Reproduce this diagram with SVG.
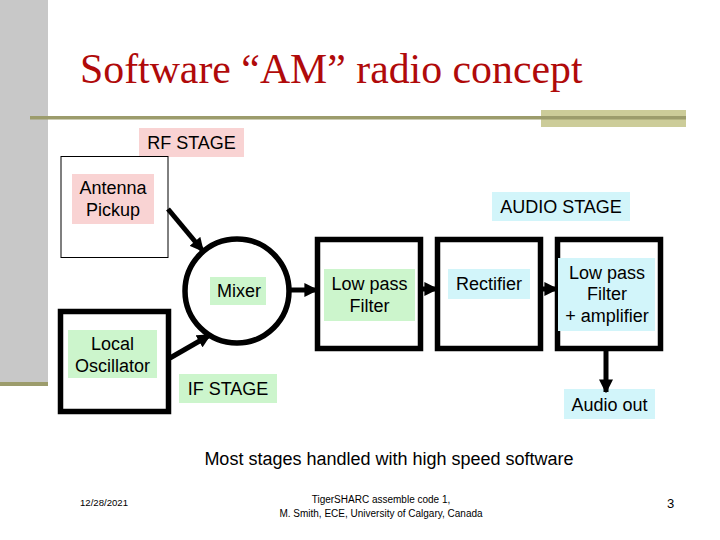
<svg xmlns="http://www.w3.org/2000/svg" width="720" height="540" viewBox="0 0 720 540">
<defs>
<style>
.t{font-family:"Liberation Sans",Arial,sans-serif;font-size:18px;fill:#000;text-anchor:middle}
.box{fill:none;stroke:#000;stroke-width:5.5}
.pink{fill:#F9D3D3}
.green{fill:#CCF5CC}
.cyan{fill:#D2F5FA}
.conn{stroke:#000;stroke-width:5;fill:none}
.ft{font-family:"Liberation Sans",Arial,sans-serif;fill:#000}
</style>
<marker id="ah" viewBox="0 0 10 10" refX="9" refY="5" markerWidth="2.8" markerHeight="2.8" orient="auto" markerUnits="strokeWidth">
<path d="M0,0 L10,5 L0,10 z" fill="#000"/>
</marker>
</defs>
<rect x="0" y="0" width="720" height="540" fill="#fff"/>
<g id="decor">
<rect x="0" y="0" width="48" height="383" fill="#C8C8C8"/>
<rect x="0" y="382" width="48" height="4" fill="#9C9C6C"/>
<rect x="541" y="110" width="145" height="17" fill="#CCCC99"/>
<rect x="30" y="116" width="656" height="3.5" fill="#9C9C6C"/>
</g>
<text id="title" x="80" y="83" font-family="Liberation Serif,'Times New Roman',serif" font-size="41.8" fill="#B00A0A">Software “AM” radio concept</text>
<g id="rf-stage"><rect class="pink" x="139" y="128" width="105" height="29"/><text class="t" x="191.5" y="149">RF STAGE</text></g>
<g id="antenna">
<rect x="61" y="156.5" width="107" height="101" fill="none" stroke="#000" stroke-width="1"/>
<rect class="pink" x="72" y="174" width="82" height="50"/>
<text class="t" x="113" y="194">Antenna</text><text class="t" x="113" y="216">Pickup</text>
</g>
<g id="local-osc">
<rect class="box" x="60.5" y="311.5" width="108" height="100"/>
<rect class="green" x="68" y="330" width="89" height="48"/>
<text class="t" x="112.5" y="350">Local</text><text class="t" x="112.5" y="372">Oscillator</text>
</g>
<g id="mixer">
<circle class="box" cx="237" cy="291" r="52"/>
<rect class="green" x="210" y="277" width="56" height="28"/>
<text class="t" x="239" y="297">Mixer</text>
</g>
<g id="if-stage"><rect class="green" x="179" y="374" width="98" height="29"/><text class="t" x="228" y="395">IF STAGE</text></g>
<g id="lpf">
<rect class="box" x="317.5" y="239.5" width="103" height="109"/>
<rect class="green" x="324" y="269" width="91" height="52"/>
<text class="t" x="369.5" y="290">Low pass</text><text class="t" x="369.5" y="312">Filter</text>
</g>
<g id="rectifier">
<rect class="box" x="437.5" y="239.5" width="103" height="109"/>
<rect class="cyan" x="448" y="269" width="82" height="30"/>
<text class="t" x="489" y="290">Rectifier</text>
</g>
<g id="lpf-amp">
<rect class="box" x="557.5" y="239.5" width="103" height="109"/>
<rect class="cyan" x="558" y="258" width="97" height="73"/>
<text class="t" x="607" y="279">Low pass</text><text class="t" x="607" y="300">Filter</text><text class="t" x="607" y="322">+ amplifier</text>
</g>
<g id="audio-stage"><rect class="cyan" x="492" y="192" width="138" height="29"/><text class="t" x="561" y="213">AUDIO STAGE</text></g>
<g id="audio-out"><rect class="cyan" x="564" y="389" width="91" height="30"/><text class="t" x="609.5" y="411">Audio out</text></g>
<g id="connectors">
<line class="conn" x1="168" y1="209" x2="203" y2="251" marker-end="url(#ah)"/>
<line class="conn" x1="170" y1="358" x2="210" y2="335" marker-end="url(#ah)"/>
<line class="conn" x1="289" y1="290" x2="317" y2="290" marker-end="url(#ah)"/>
<line class="conn" x1="423" y1="289" x2="437" y2="289" marker-end="url(#ah)"/>
<line class="conn" x1="543" y1="289" x2="557" y2="289" marker-end="url(#ah)"/>
<line class="conn" x1="606" y1="351" x2="606" y2="392" marker-end="url(#ah)"/>
</g>
<text class="t" x="389" y="465">Most stages handled with high speed software</text>
<text class="ft" x="80" y="506" font-size="9.6">12/28/2021</text>
<text class="ft" x="381" y="503" font-size="10" text-anchor="middle">TigerSHARC assemble code 1,</text>
<text class="ft" x="381" y="517" font-size="10" text-anchor="middle">M. Smith, ECE, University of Calgary, Canada</text>
<text class="ft" x="667" y="508" font-size="13">3</text>
</svg>
